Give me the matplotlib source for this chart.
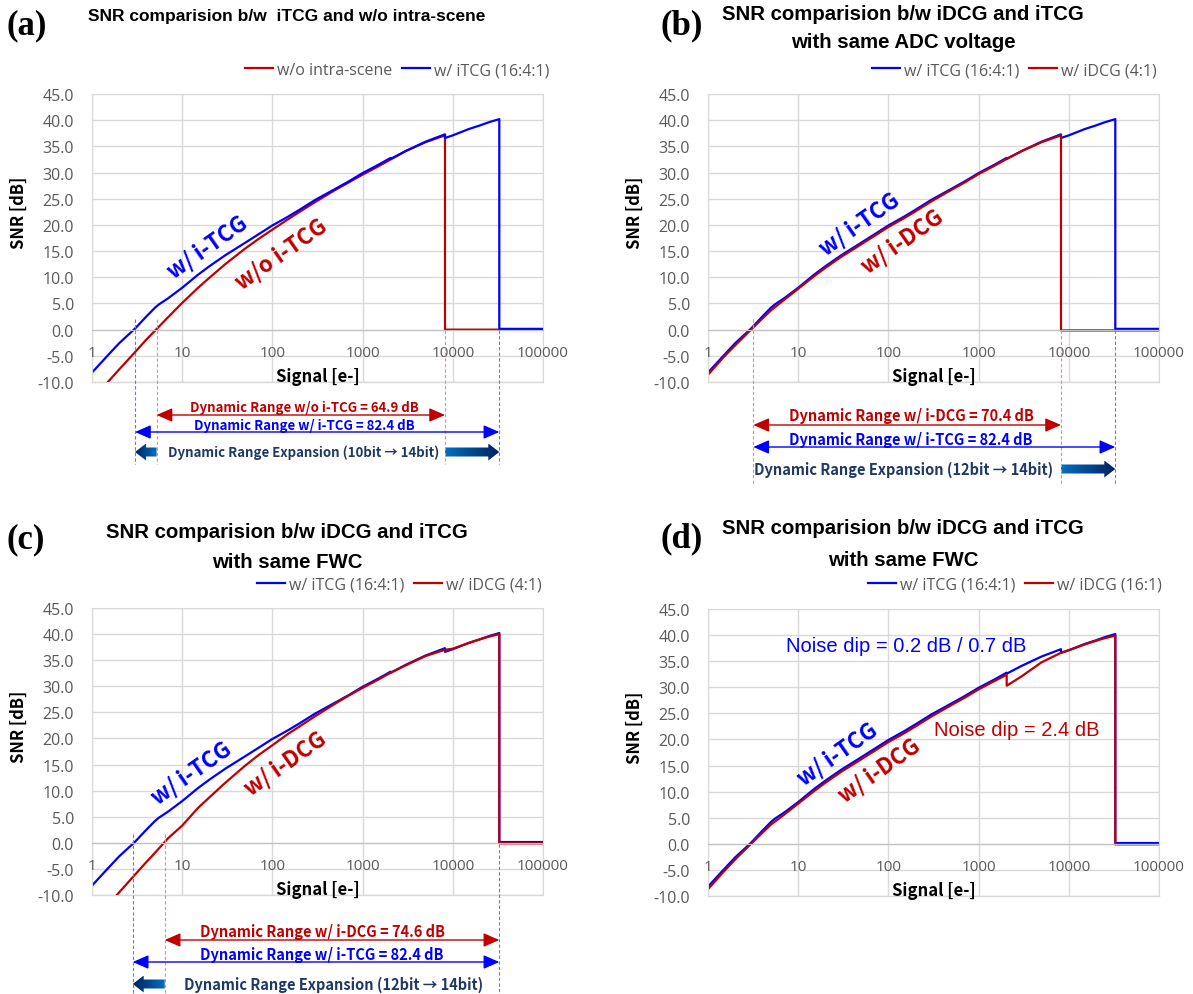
import numpy as np
import matplotlib
matplotlib.use('Agg')
import matplotlib.pyplot as plt
from matplotlib.colors import LinearSegmentedColormap
from matplotlib.patches import Polygon
from matplotlib.ticker import FormatStrFormatter, NullLocator

# ---- data ----
xticks = [1, 10, 100, 1000, 10000, 100000]
xtick_labels = ['1', '10', '100', '1000', '10000', '100000']

# w/ iTCG (16:4:1) - same curve in all four panels
x_itcg = [1, 1.5, 2, 3, 4, 5, 5.5, 7, 10, 15, 20, 30, 50, 70, 100, 150, 200, 300, 500, 700,
          1000, 1500, 2048, 2048, 3000, 5000, 8192, 8192, 10000, 15000, 20000, 25000,
          32768, 32768, 100000]
snr_itcg = [-8.2, -4.9, -2.6, 0.2, 2.5, 4.2, 4.8, 6.0, 8.0, 10.5, 12.1, 14.2, 16.6, 18.2, 19.9,
            21.6, 22.9, 24.8, 26.9, 28.3, 29.9, 31.5, 32.8, 32.6, 34.1, 35.9, 37.3, 36.6,
            37.1, 38.3, 39.0, 39.6, 40.2, 0.15, 0.15]

# (a) w/o intra-scene
x_noint = [1, 1.5, 2, 3, 4, 5, 7, 10, 15, 20, 30, 50, 70, 100, 150, 200, 300, 500, 700,
           1000, 1500, 2000, 3000, 5000, 8192, 8192, 100000]
snr_noint = [-13.4, -10.0, -7.6, -4.3, -1.9, -0.2, 2.4, 5.1, 8.0, 9.9, 12.5, 15.5, 17.3, 19.1,
             21.1, 22.5, 24.4, 26.7, 28.1, 29.6, 31.2, 32.4, 34.1, 35.8, 37.1, 0.0, 0.0]

# (b) w/ iDCG (4:1), same ADC voltage
x_idcg_b = [1, 1.5, 2, 3, 4, 5, 7, 10, 15, 20, 30, 50, 70, 100, 150, 200, 300, 500, 700,
            1000, 1500, 2000, 3000, 5000, 8192, 8192, 100000]
snr_idcg_b = [-8.6, -5.2, -3.0, 0.0, 2.1, 3.7, 5.7, 7.8, 10.2, 11.8, 13.9, 16.3, 17.9, 19.6,
              21.3, 22.6, 24.5, 26.7, 28.1, 29.7, 31.3, 32.5, 34.1, 35.8, 37.1, -0.15, -0.15]

# (c) w/ iDCG (4:1), same FWC
x_idcg_c = [1, 1.5, 2, 3, 4, 5, 7, 10, 15, 20, 30, 50, 70, 100, 150, 200, 300, 500, 700,
            1000, 1500, 2000, 3000, 5000, 8192, 10000, 15000, 20000, 25000, 32768, 32768, 100000]
snr_idcg_c = [-15.4, -11.9, -9.5, -6.1, -3.7, -1.9, 0.9, 3.3, 6.7, 8.7, 11.5, 14.8, 16.8, 18.7,
              20.9, 22.3, 24.3, 26.7, 28.2, 29.7, 31.3, 32.5, 34.0, 35.8, 37.0, 37.2, 38.3,
              39.0, 39.5, 40.0, -0.1, -0.1]

# (d) w/ iDCG (16:1), same FWC
x_idcg_d = [1, 1.5, 2, 3, 4, 5, 7, 10, 15, 20, 30, 50, 70, 100, 150, 200, 300, 500, 700,
            1000, 1500, 2048, 2048, 3000, 5000, 8192, 10000, 15000, 20000, 25000, 32768, 32768, 100000]
snr_idcg_d = [-8.7, -5.3, -3.0, 0.0, 2.1, 3.7, 5.6, 7.7, 10.1, 11.7, 13.8, 16.2, 17.8, 19.5,
              21.2, 22.5, 24.4, 26.6, 28.0, 29.6, 31.2, 32.4, 30.3, 32.1, 34.8, 36.6, 37.1,
              38.2, 38.9, 39.4, 39.9, -0.1, -0.1]

# signal levels where the dynamic range limits sit
dr_a = {'itcg_lo': 3.0, 'noint_lo': 5.2, 'noint_hi': 8192, 'itcg_hi': 32768}
dr_b = {'idcg_lo': 3.18, 'idcg_hi': 8192, 'itcg_hi': 32768}
dr_c = {'itcg_lo': 2.83, 'idcg_lo': 6.4, 'itcg_hi': 32768}

# ---- style ----
W, H = 1193, 995
BLUE = '#0000FF'
RED = '#C00000'
NAVY = '#1F3864'
GRAY = '#595959'
GRID = '#D9D9D9'
LBLUE = '#7070FF'
LRED = '#EE8888'
KR = ['Noto Sans CJK KR', 'DejaVu Sans']
TICKF = 'Open Sans'

fig = plt.figure(figsize=(W / 100, H / 100), dpi=100)


def rect(l, t, r, b):
    return [l / W, 1 - b / H, (r - l) / W, (b - t) / H]


def make_axes(box):
    ax = fig.add_axes(rect(*box))
    ax.set_xscale('log')
    ax.set_xlim(1, 100000)
    ax.set_ylim(-10, 45)
    ax.set_yticks(np.arange(-10, 46, 5))
    ax.yaxis.set_major_formatter(FormatStrFormatter('%.1f'))
    ax.set_xticks(xticks)
    ax.set_xticklabels([])
    ax.xaxis.set_minor_locator(NullLocator())
    ax.grid(True, color=GRID, lw=1)
    ax.set_axisbelow(True)
    for s in ['left', 'right', 'top']:
        ax.spines[s].set_color(GRID)
    ax.spines['bottom'].set_position(('data', 0))
    ax.spines['bottom'].set_color('#BFBFBF')
    ax.axhline(-10, color=GRID, lw=1, clip_on=False, zorder=0)
    ax.tick_params(length=0, labelcolor=GRAY, labelsize=11.5)
    ax.tick_params(axis='y', pad=13)
    for lab in ax.get_yticklabels():
        lab.set_fontfamily(TICKF)
    for x, s in zip(xticks, xtick_labels):
        ax.annotate(s, xy=(x, 0), xycoords='data', xytext=(0, -16.5), textcoords='offset points',
                    ha='center', va='center', color=GRAY, fontsize=11, family=TICKF,
                    annotation_clip=False)
    ax.text(0.5, 0.02, 'Signal [e-]', transform=ax.transAxes, ha='center', va='center',
            fontsize=12, fontweight='bold', family=KR)
    ax.text(-0.162, 0.59, 'SNR [dB]', transform=ax.transAxes, ha='center', va='center',
            rotation=90, fontsize=12, fontweight='bold', family=KR)
    return ax


def legend(ax, cx, cy):
    ax.legend(loc='center', bbox_to_anchor=(cx / W, 1 - cy / H), bbox_transform=fig.transFigure,
              ncol=2, frameon=False, handlelength=1.75, handletextpad=0.25, columnspacing=0.6,
              labelcolor=GRAY, prop={'family': TICKF, 'size': 11.5})


ax_a = make_axes((92, 95, 543, 383))
ax_b = make_axes((708, 95, 1159, 383))
ax_c = make_axes((92, 609, 543, 896))
ax_d = make_axes((708, 610, 1159, 897))

ax_a.plot(x_noint, snr_noint, color=RED, lw=1.6, label='w/o intra-scene')
ax_a.plot(x_itcg, snr_itcg, color=BLUE, lw=1.6, label='w/ iTCG (16:4:1)')
legend(ax_a, 397, 71)

ax_b.plot(x_itcg, snr_itcg, color=BLUE, lw=1.6, label='w/ iTCG (16:4:1)')
ax_b.plot(x_idcg_b, snr_idcg_b, color=RED, lw=1.6, label='w/ iDCG (4:1)')
legend(ax_b, 1014, 71)

ax_c.plot(x_itcg, snr_itcg, color=BLUE, lw=1.6, label='w/ iTCG (16:4:1)')
ax_c.plot(x_idcg_c, snr_idcg_c, color=RED, lw=1.6, label='w/ iDCG (4:1)')
legend(ax_c, 399, 586)

ax_d.plot(x_itcg, snr_itcg, color=BLUE, lw=1.6, label='w/ iTCG (16:4:1)')
ax_d.plot(x_idcg_d, snr_idcg_d, color=RED, lw=1.6, label='w/ iDCG (16:1)')
legend(ax_d, 1015, 586)

# ---- overlay in pixel units for annotations ----
ov = fig.add_axes([0, 0, 1, 1], zorder=10)
ov.set_xlim(0, W)
ov.set_ylim(H, 0)
ov.axis('off')

cmap = LinearSegmentedColormap.from_list('arr', ['#0070C0', '#002060'])


def px(ax, x):
    return ax.transData.transform((x, 0))[0]


def vdash(ax, x, color, y0, y1):
    p = px(ax, x)
    ov.plot([p, p], [y0, y1], color=color, lw=0.8, ls=(0, (3, 2)))


def dbl_arrow(ax, x0, x1, y, color):
    ov.annotate('', xy=(px(ax, x1), y), xytext=(px(ax, x0), y),
                arrowprops=dict(arrowstyle='<|-|>,head_length=0.8,head_width=0.35',
                                mutation_scale=12, color=color, lw=1.0, shrinkA=0, shrinkB=0))


def fat_arrow(ax, x_tail, x_head, y, shaft=9, head=17, head_len=11):
    xt, xh = px(ax, x_tail), px(ax, x_head)
    d = np.sign(xh - xt)
    xb = xh - d * head_len
    verts = [(xt, y - shaft / 2), (xb, y - shaft / 2), (xb, y - head / 2), (xh, y),
             (xb, y + head / 2), (xb, y + shaft / 2), (xt, y + shaft / 2)]
    poly = Polygon(verts, closed=True, facecolor='none', edgecolor='none')
    ov.add_patch(poly)
    grad = np.linspace(0, 1, 256).reshape(1, -1)
    if d < 0:
        grad = grad[:, ::-1]
    im = ov.imshow(grad, cmap=cmap, aspect='auto',
                   extent=(min(xt, xh), max(xt, xh), y + head / 2, y - head / 2))
    im.set_clip_path(poly)


def note(x, y, s, color, size=10):
    ov.text(x, y, s, color=color, ha='center', va='center', fontsize=size,
            fontweight='bold', family=KR)


# (a)
vdash(ax_a, dr_a['itcg_lo'], LBLUE, 320, 465)
vdash(ax_a, dr_a['noint_lo'], LRED, 320, 465)
vdash(ax_a, dr_a['noint_hi'], LRED, 331, 465)
vdash(ax_a, dr_a['itcg_hi'], LBLUE, 331, 465)
dbl_arrow(ax_a, dr_a['noint_lo'], dr_a['noint_hi'], 416, RED)
dbl_arrow(ax_a, dr_a['itcg_lo'], dr_a['itcg_hi'], 433, BLUE)
note(304, 408, 'Dynamic Range w/o i-TCG = 64.9 dB', RED, 9.5)
note(304, 426, 'Dynamic Range w/ i-TCG = 82.4 dB', BLUE, 9.5)
note(304, 453, 'Dynamic Range Expansion (10bit \u2192 14bit)', NAVY, 9.5)
fat_arrow(ax_a, dr_a['noint_lo'], dr_a['itcg_lo'], 453)
fat_arrow(ax_a, dr_a['noint_hi'], dr_a['itcg_hi'], 453)

# (b)
vdash(ax_b, dr_b['idcg_lo'], LRED, 320, 485)
vdash(ax_b, dr_b['idcg_hi'], LRED, 331, 485)
vdash(ax_b, dr_b['itcg_hi'], LBLUE, 331, 485)
dbl_arrow(ax_b, dr_b['idcg_lo'], dr_b['idcg_hi'], 426, RED)
dbl_arrow(ax_b, dr_b['idcg_lo'], dr_b['itcg_hi'], 448, BLUE)
note(911, 416, 'Dynamic Range w/ i-DCG = 70.4 dB', RED, 10.5)
note(911, 440, 'Dynamic Range w/ i-TCG = 82.4 dB', BLUE, 10.5)
note(904, 470, 'Dynamic Range Expansion (12bit \u2192 14bit)', NAVY, 10.5)
fat_arrow(ax_b, dr_b['idcg_hi'], dr_b['itcg_hi'], 470)

# (c)
vdash(ax_c, dr_c['itcg_lo'], LBLUE, 835, 995)
vdash(ax_c, dr_c['idcg_lo'], LRED, 835, 995)
vdash(ax_c, dr_c['itcg_hi'], LBLUE, 845, 995)
dbl_arrow(ax_c, dr_c['idcg_lo'], dr_c['itcg_hi'], 941, RED)
dbl_arrow(ax_c, dr_c['itcg_lo'], dr_c['itcg_hi'], 963, BLUE)
note(322, 932, 'Dynamic Range w/ i-DCG = 74.6 dB', RED, 10.5)
note(322, 955, 'Dynamic Range w/ i-TCG = 82.4 dB', BLUE, 10.5)
note(334, 985, 'Dynamic Range Expansion (12bit \u2192 14bit)', NAVY, 10.5)
fat_arrow(ax_c, dr_c['idcg_lo'], dr_c['itcg_lo'], 985)

# (d)
ov.text(906, 646, 'Noise dip = 0.2 dB / 0.7 dB', color=BLUE, ha='center', va='center',
        fontsize=14.5, family='Liberation Sans')
ov.text(1017, 730, 'Noise dip = 2.4 dB', color=RED, ha='center', va='center',
        fontsize=14.5, family='Liberation Sans')

# curve labels
for (x, y, s, c) in [(207, 248, 'w/ i-TCG', BLUE), (281, 255, 'w/o i-TCG', RED),
                     (859, 225, 'w/ i-TCG', BLUE), (902, 242, 'w/ i-DCG', RED),
                     (191, 774, 'w/ i-TCG', BLUE), (285, 764, 'w/ i-DCG', RED),
                     (837, 755, 'w/ i-TCG', BLUE), (879, 771, 'w/ i-DCG', RED)]:
    ov.text(x, y, s, color=c, ha='center', va='center', rotation=35, rotation_mode='anchor',
            fontsize=16, fontweight='bold', family=KR)

# titles
TF = 'Liberation Sans'
ov.text(88, 17, 'SNR comparision b/w  iTCG and w/o intra-scene', ha='left', va='center',
        fontsize=12.5, fontweight='bold', family=TF)
for (x, y, s) in [(903, 14, 'SNR comparision b/w iDCG and iTCG'), (903, 43, 'with same ADC voltage'),
                  (287, 532, 'SNR comparision b/w iDCG and iTCG'), (287, 562, 'with same FWC'),
                  (903, 528, 'SNR comparision b/w iDCG and iTCG'), (903, 560, 'with same FWC')]:
    ov.text(x, y, s, ha='center', va='center', fontsize=14.7, fontweight='bold', family=TF)

for (x, y, s) in [(7, 26, '(a)'), (660, 26, '(b)'), (7, 540, '(c)'), (660, 539, '(d)')]:
    ov.text(x, y, s, ha='left', va='center', fontsize=25, fontweight='bold',
            family='Liberation Serif')

ov.set_xlim(0, W)
ov.set_ylim(H, 0)

fig.savefig('out.png', dpi=100)
